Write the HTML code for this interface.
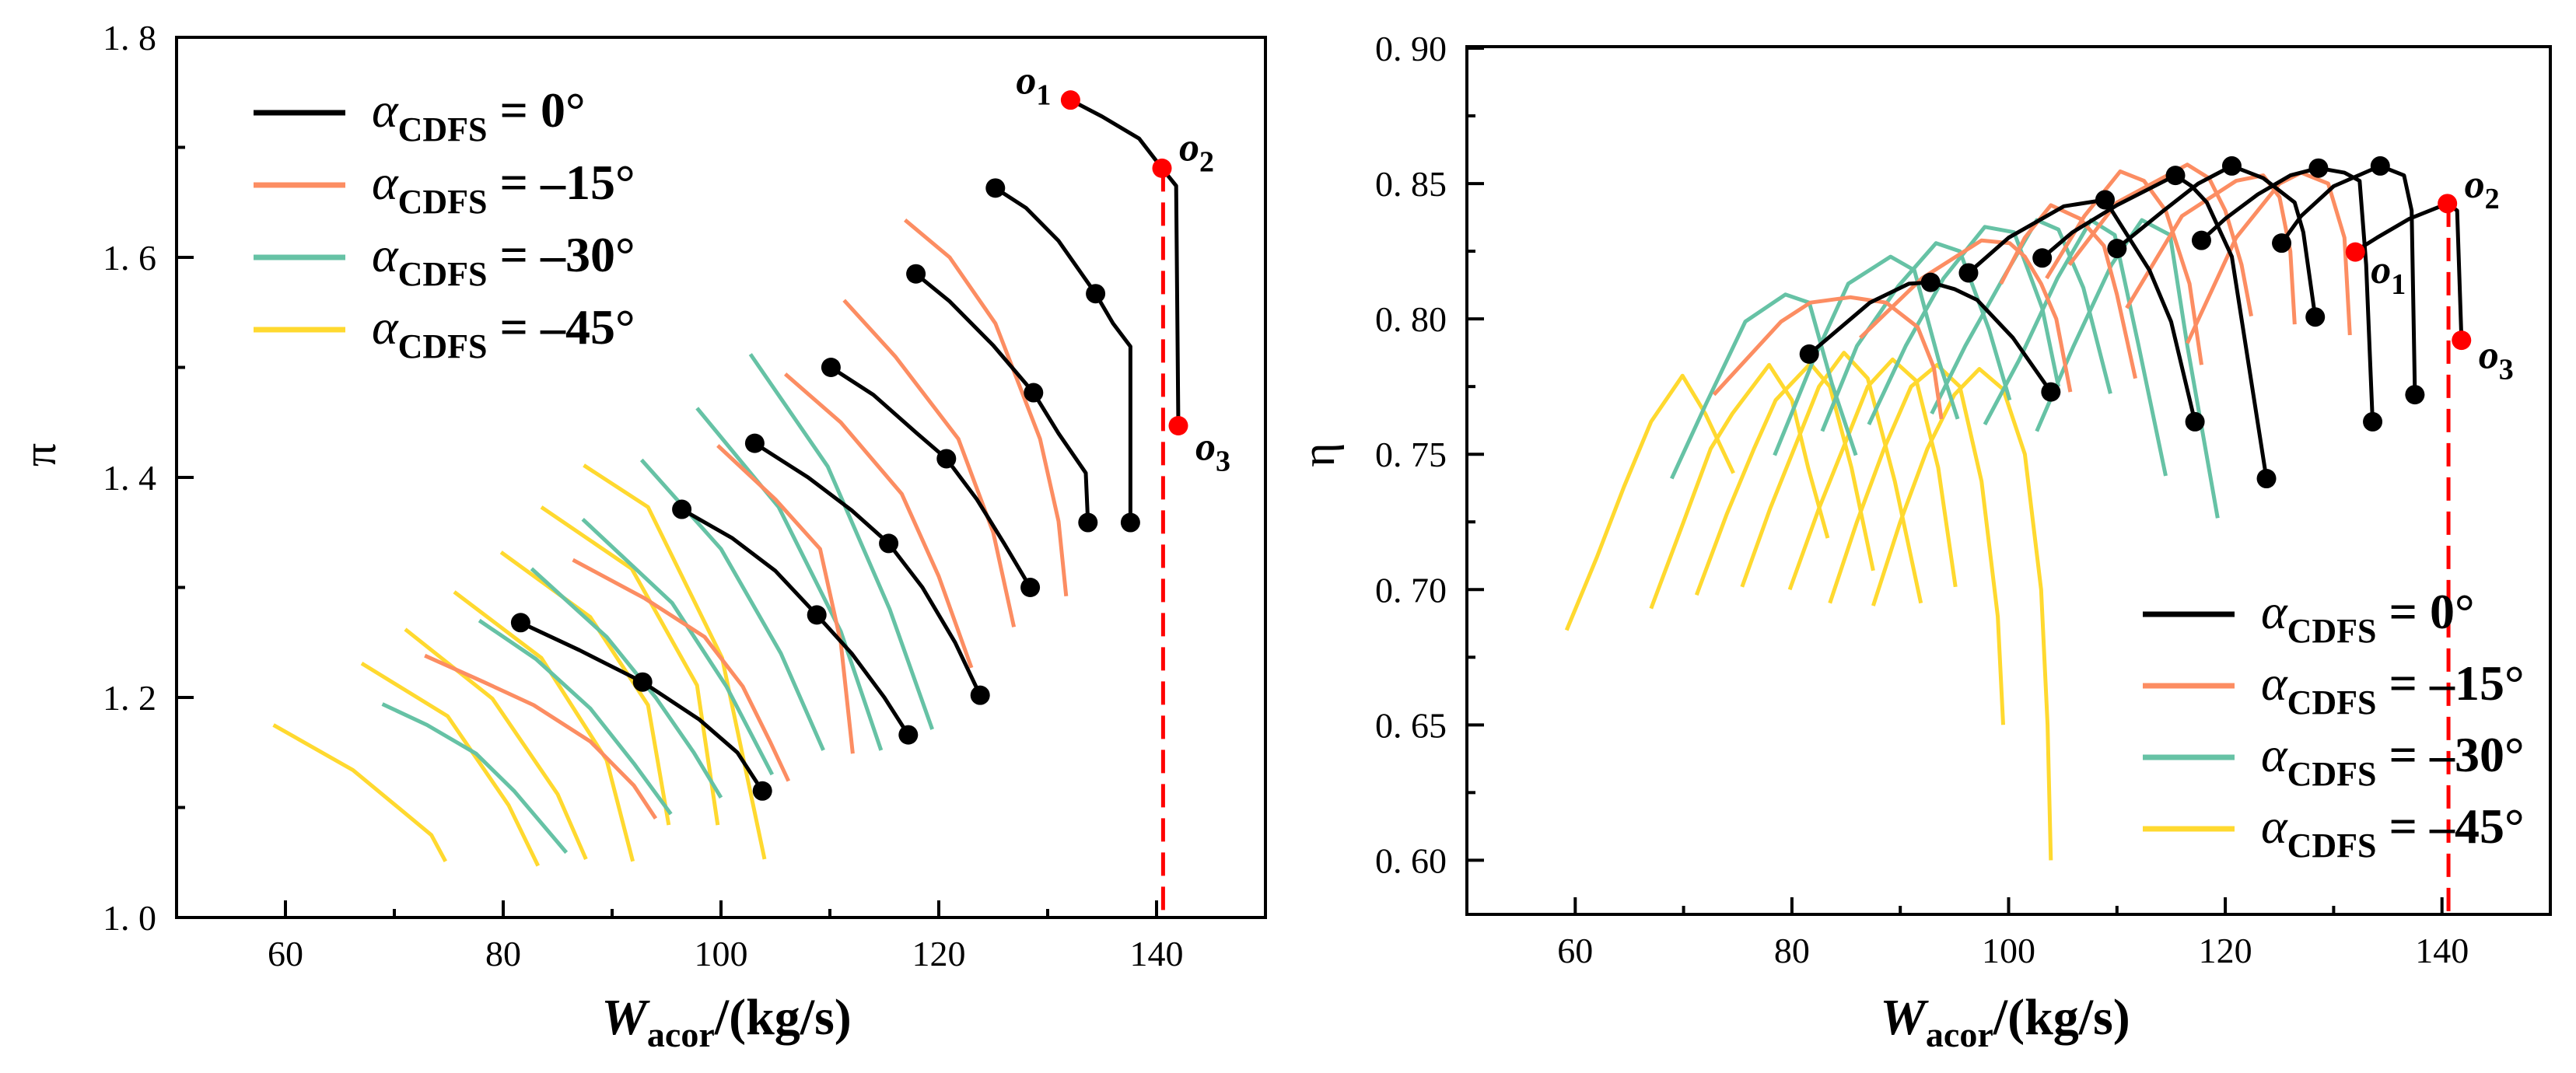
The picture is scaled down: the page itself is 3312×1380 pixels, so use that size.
<!DOCTYPE html>
<html><head><meta charset="utf-8"><style>
html,body{margin:0;padding:0;background:#fff;}
svg{display:block;font-family:"Liberation Serif",serif;}
</style></head><body>
<svg id="c" width="3312" height="1380" viewBox="0 0 3312 1380" xmlns="http://www.w3.org/2000/svg"></svg>
<script>
// ---------- LEFT CHART DATA (pressure ratio) ----------
const leftBlack = [
 [[81.6,1.268],[87,1.243],[92.8,1.214],[98,1.18],[101.5,1.15],[103.8,1.115]],
 [[96.4,1.371],[101,1.345],[105,1.315],[108.8,1.275],[112,1.24],[115,1.20],[117.2,1.166]],
 [[103.1,1.431],[108,1.40],[112,1.37],[115.4,1.340],[118.5,1.30],[121.5,1.25],[123.8,1.202]],
 [[110.1,1.500],[114,1.475],[118,1.44],[120.7,1.417],[123.5,1.38],[126,1.34],[128.4,1.300]],
 [[117.9,1.585],[121,1.56],[125,1.52],[128.7,1.477],[131,1.44],[133.5,1.404],[133.7,1.359]],
 [[125.2,1.663],[128,1.645],[131,1.615],[134.4,1.567],[136,1.54],[137.6,1.519],[137.6,1.359]]
];
const leftBlackDots = [[81.6,1.268],[92.8,1.214],[103.8,1.115],[96.4,1.371],[108.8,1.275],[117.2,1.166],[103.1,1.431],[115.4,1.340],[123.8,1.202],[110.1,1.500],[120.7,1.417],[128.4,1.300],[117.9,1.585],[128.7,1.477],[133.7,1.359],[125.2,1.663],[134.4,1.567],[137.6,1.359]];
const leftRedCurve = [[132.1,1.743],[135,1.728],[138.4,1.708],[140.5,1.681],[141.8,1.665],[142.0,1.447]];
const leftRedDots = [[132.1,1.743],[140.5,1.681],[142.0,1.447]];
const leftOrange = [
 [[72.8,1.238],[78,1.215],[82.8,1.193],[88,1.16],[92,1.12],[94,1.090]],
 [[86.4,1.325],[93,1.29],[98.5,1.255],[102,1.21],[104.5,1.16],[106.2,1.124]],
 [[99.7,1.429],[105,1.38],[109.1,1.335],[111,1.25],[112.1,1.149]],
 [[105.9,1.494],[111,1.45],[116.6,1.385],[120,1.31],[123.0,1.227]],
 [[111.3,1.561],[116,1.51],[121.8,1.435],[125,1.35],[126.9,1.264]],
 [[116.9,1.634],[121,1.60],[125.2,1.540],[129.3,1.435],[131,1.36],[131.7,1.292]]
];
const leftGreen = [
 [[68.9,1.194],[73,1.175],[77.5,1.149],[81,1.115],[85.8,1.059]],
 [[77.8,1.270],[83,1.235],[88,1.19],[92,1.14],[95.4,1.094]],
 [[82.6,1.317],[89.5,1.255],[94,1.20],[97.5,1.15],[100.0,1.109]],
 [[87.3,1.362],[95.5,1.286],[100.5,1.21],[104.7,1.130]],
 [[92.7,1.416],[100,1.335],[105.5,1.24],[109.4,1.152]],
 [[97.8,1.463],[105.3,1.373],[111,1.26],[114.7,1.152]],
 [[102.7,1.512],[109.8,1.410],[115.5,1.28],[119.4,1.171]]
];
const leftYellow = [
 [[58.9,1.175],[66.2,1.134],[73.4,1.075],[74.7,1.051]],
 [[67.0,1.231],[74.9,1.183],[80.5,1.102],[83.2,1.047]],
 [[71.0,1.262],[79.0,1.199],[85.0,1.112],[87.6,1.053]],
 [[75.5,1.296],[83.5,1.236],[89.5,1.143],[91.9,1.051]],
 [[79.8,1.332],[88.0,1.273],[93.3,1.193],[95.2,1.084]],
 [[83.5,1.373],[91.8,1.317],[97.8,1.211],[99.7,1.084]],
 [[87.4,1.411],[93.3,1.373],[100.1,1.236],[104.0,1.053]]
];
const leftXTicks = [60,80,100,120,140];
const leftYTicks = [1.0,1.2,1.4,1.6,1.8];
const leftYTickLabels = ["1. 0","1. 2","1. 4","1. 6","1. 8"];

// ---------- RIGHT CHART DATA (efficiency) ----------
const rightBlack = [
 [[81.6,.787],[87.2,.806],[90.8,.813],[92.8,.8135],[95,.811],[97.1,.807],[100.4,.793],[103.9,.773]],
 [[96.3,.817],[100,.830],[105.1,.8416],[108.9,.844],[110,.837],[113,.818],[115,.799],[117.2,.762]],
 [[103.1,.8225],[105.9,.832],[110,.842],[115.4,.853],[116.9,.849],[118.3,.843],[120.6,.823],[123.8,.741]],
 [[110.0,.826],[114.3,.840],[117.5,.850],[120.6,.8565],[123.5,.852],[126.4,.843],[127.2,.832],[128.3,.8007]],
 [[117.8,.829],[120,.837],[123,.846],[126,.853],[128.6,.8557],[131,.854],[132.4,.851],[133,.82],[133.6,.762]],
 [[125.2,.828],[127,.838],[130,.849],[134.3,.8565],[136.5,.853],[137.2,.84],[137.5,.772]]
];
const rightBlackDots = [[81.6,.787],[92.8,.8135],[103.9,.773],[96.3,.817],[108.9,.844],[117.2,.762],[103.1,.8225],[115.4,.853],[123.8,.741],[110.0,.826],[120.6,.8565],[128.3,.8007],[117.8,.829],[128.6,.8557],[133.6,.762],[125.2,.828],[134.3,.8565],[137.5,.772]];
const rightRedCurve = [[132.0,.825],[134,.830],[137,.837],[140.5,.8426],[141.4,.840],[141.8,.792]];
const rightRedDots = [[132.0,.8247],[140.5,.8426],[141.8,.7921]];
const rightOrange = [
 [[72.8,.772],[79.0,.799],[81.7,.806],[85.4,.808],[88.7,.806],[91.6,.797],[93.1,.782],[93.8,.763]],
 [[86.3,.793],[92,.815],[97.5,.829],[100.1,.828],[101.5,.823],[103,.813],[104.4,.800],[105.7,.773]],
 [[99.3,.813],[101.5,.830],[103.9,.842],[106.6,.837],[108.8,.827],[110,.809],[111.7,.778]],
 [[103.5,.815],[107,.838],[110.3,.8545],[112.5,.851],[114.5,.840],[116.7,.813],[117.8,.783]],
 [[105.6,.820],[110,.843],[116.5,.857],[118.5,.852],[120,.840],[121.5,.820],[122.4,.801]],
 [[110.9,.804],[116,.838],[121,.851],[123.5,.853],[125,.845],[126,.825],[126.4,.798]],
 [[116.5,.791],[121,.830],[125,.850],[127,.854],[129.5,.850],[131,.830],[131.5,.794]]
];
const rightGreen = [
 [[68.9,.741],[72,.768],[75.7,.799],[79.4,.809],[81.6,.806],[83.7,.776],[85.9,.7496]],
 [[78.4,.7496],[82,.785],[85.2,.813],[89.1,.823],[91.3,.818],[93.6,.784],[95.3,.763]],
 [[82.8,.7585],[86,.790],[89.8,.812],[93.3,.828],[95.5,.825],[98.2,.796],[100.1,.770]],
 [[87.1,.761],[90.5,.790],[94,.815],[97.8,.834],[100.5,.832],[103.1,.804],[104.6,.775]],
 [[92.9,.765],[96,.790],[99.5,.815],[102.6,.8365],[104.6,.833],[106.9,.8115],[109.4,.7724]],
 [[97.8,.761],[101,.785],[104.5,.815],[107.6,.8365],[109.8,.831],[112,.790],[114.5,.742]],
 [[102.6,.7585],[106,.790],[109.5,.820],[112.3,.8365],[114.9,.831],[116.5,.790],[119.3,.7264]]
];
const rightYellow = [
 [[59.2,.685],[62,.712],[64.5,.738],[67,.762],[69.9,.779],[72,.765],[74.6,.743]],
 [[67,.693],[70,.725],[72.5,.752],[74.5,.765],[77.9,.783],[80,.770],[81.5,.745],[83.3,.719]],
 [[71.2,.698],[74,.728],[76.5,.752],[78.5,.770],[81.7,.7835],[83.5,.775],[85.5,.745],[87.5,.707]],
 [[75.4,.701],[78,.730],[80.5,.755],[82.5,.775],[84.8,.7875],[87,.778],[89.5,.740],[91.9,.695]],
 [[79.8,.700],[82.5,.730],[85,.755],[87,.775],[89.3,.785],[91.5,.777],[93.5,.745],[95.1,.701]],
 [[83.5,.695],[86,.725],[88.5,.752],[91,.775],[93.4,.783],[95.5,.775],[97.5,.740],[99,.690],[99.5,.650]],
 [[87.5,.694],[90,.725],[92.5,.752],[95,.772],[97.3,.7815],[99.5,.774],[101.5,.750],[103,.700],[103.6,.650],[103.9,.600]]
];
const rightXTicks = [60,80,100,120,140];
const rightYTicks = [0.60,0.65,0.70,0.75,0.80,0.85,0.90];
const rightYTickLabels = ["0. 60","0. 65","0. 70","0. 75","0. 80","0. 85","0. 90"];
const dashedW = 140.6;

const COL = {k:"#000000", o:"#FC8D62", g:"#66C2A5", y:"#FFD92F", r:"#FF0000"};
const NS = "http://www.w3.org/2000/svg";
const svg = document.getElementById("c");

function mk(tag, attrs, parent){
  const e = document.createElementNS(NS, tag);
  for (const k in attrs) e.setAttribute(k, attrs[k]);
  (parent||svg).appendChild(e);
  return e;
}

function makeScale(d0,d1,p0,p1){ return v => p0 + (v-d0)/(d1-d0)*(p1-p0); }

function drawChart(o){
  const g = mk("g", {});
  
  
  const X = makeScale(o.x0,o.x1,o.L,o.R);
  const Y = makeScale(o.y0,o.y1,o.B,o.T);
  const ptsStr = arr => arr.map(p => X(p[0]).toFixed(1)+","+Y(p[1]).toFixed(1)).join(" ");
  const series = [[o.yellow,COL.y,"yellow"],[o.green,COL.g,"green"],[o.orange,COL.o,"orange"]];
  series.forEach(s => {
    s[0].forEach((c,i) => {
      const pl = mk("polyline", {points: ptsStr(c), fill:"none", stroke:s[1], "stroke-width":5, "stroke-linejoin":"round"}, g);
      
      
    });
  });
  o.black.forEach((c,i) => {
    const pl = mk("polyline", {points: ptsStr(c), fill:"none", stroke:"#000", "stroke-width":5, "stroke-linejoin":"round"}, g);
    
    
  });
  const rc = mk("polyline", {points: ptsStr(o.redCurve), fill:"none", stroke:"#000", "stroke-width":5, "stroke-linejoin":"round"}, g);
  
  
  const dl = mk("line", {x1:X(dashedW), x2:X(dashedW), y1:Y(o.redDots[1][1]), y2:o.B, stroke:COL.r, "stroke-width":5, "stroke-dasharray":"30,14"}, g);
  
  
  o.blackDots.forEach((p,i) => {
    const c = mk("circle", {cx:X(p[0]), cy:Y(p[1]), r:12.5, fill:"#000"}, g);
    
    
  });
  o.redDots.forEach((p,i) => {
    const c = mk("circle", {cx:X(p[0]), cy:Y(p[1]), r:12.5, fill:COL.r}, g);
    
    
  });
  o.redLabels.forEach((lb,i) => {
    const t = mk("text", {x:X(o.redDots[i][0])+lb[0], y:Y(o.redDots[i][1])+lb[1], "font-size":52, "font-weight":"bold", "font-style":"italic", fill:"#000"}, g);
    
    
    t.innerHTML = 'o<tspan font-size="38" dy="14" font-style="normal">'+(i+1)+'</tspan>';
  });
  // frame
  const fr = mk("rect", {x:o.L, y:o.T2, width:o.R-o.L, height:o.B-o.T2, fill:"none", stroke:"#000", "stroke-width":4}, g);
  
  
  // x ticks
  for (let v=o.x0+10; v<o.x1; v+=10){
    const major = o.xTicks.indexOf(v) >= 0;
    const tk = mk("line", {x1:X(v), x2:X(v), y1:o.B, y2:o.B-(major?22:11), stroke:"#000", "stroke-width":4}, g);
    
    
  }
  o.xTicks.forEach(v => {
    const t = mk("text", {x:X(v), y:o.B+62, "font-size":46, "text-anchor":"middle"}, g);
    
    
    t.textContent = v;
  });
  o.yMinor.forEach(v => {
    const tk = mk("line", {x1:o.L, x2:o.L+11, y1:Y(v), y2:Y(v), stroke:"#000", "stroke-width":4}, g);
    
    
  });
  o.yTicks.forEach((v,i) => {
    const tk = mk("line", {x1:o.L, x2:o.L+22, y1:Y(v), y2:Y(v), stroke:"#000", "stroke-width":4}, g);
    
    
    const t = mk("text", {x:o.L-26, y:Y(v)+16, "font-size":46, "text-anchor":"end"}, g);
    
    
    t.textContent = o.yLabels[i];
  });
  const xt = mk("text", {x:o.xTitleX, y:1330, "font-size":66, "font-weight":"bold", "text-anchor":"middle"}, g);
  
  
  xt.innerHTML = '<tspan font-style="italic">W</tspan><tspan font-size="46" dy="16">acor</tspan><tspan dy="-16">/(kg/s)</tspan>';
  const yt = mk("text", {x:o.yTitleX, y:600, "font-size":60, "text-anchor":"middle", transform:"rotate(-90 "+o.yTitleX+" 585)"}, g);
  
  
  yt.textContent = o.yTitle;
  // legend
  const names = ["0°","–15°","–30°","–45°"];
  const cols = [COL.k,COL.o,COL.g,COL.y];
  names.forEach((n,i) => {
    const yy = o.legY + i*o.legDy;
    const ln = mk("line", {x1:o.legX, x2:o.legX+118, y1:yy, y2:yy, stroke:cols[i], "stroke-width":7}, g);
    
    
    const t = mk("text", {x:o.legX+152, y:yy+18, "font-size":64, "font-weight":"bold"}, g);
    
    
    t.innerHTML = '<tspan font-style="italic" font-weight="normal">α</tspan><tspan font-size="44" dy="18">CDFS</tspan><tspan dy="-18"> = '+n+'</tspan>';
  });
}

drawChart({name:"pressure-ratio-chart", x0:50,x1:150,L:227,R:1627, y0:1.0,y1:1.8,B:1180,T:48,T2:48,
  black:leftBlack, blackDots:leftBlackDots, redCurve:leftRedCurve, redDots:leftRedDots,
  orange:leftOrange, green:leftGreen, yellow:leftYellow,
  xTicks:leftXTicks, yTicks:leftYTicks, yLabels:leftYTickLabels,
  yMinor:[1.1,1.3,1.5,1.7], xTitleX:934, yTitleX:56, yTitle:"π",
  legX:326, legY:145, legDy:93,
  redLabels:[[-70,-8],[22,-10],[22,44]]});

drawChart({name:"efficiency-chart", x0:50,x1:150,L:1886,R:3279, y0:0.58,y1:0.90,B:1176,T:62,T2:60,
  black:rightBlack, blackDots:rightBlackDots, redCurve:rightRedCurve, redDots:rightRedDots,
  orange:rightOrange, green:rightGreen, yellow:rightYellow,
  xTicks:rightXTicks, yTicks:rightYTicks, yLabels:rightYTickLabels,
  yMinor:[0.625,0.675,0.725,0.775,0.825,0.875], xTitleX:2578, yTitleX:1700, yTitle:"η",
  legX:2755, legY:790, legDy:92,
  redLabels:[[20,40],[22,-8],[22,36]]});
</script>
</body></html>
